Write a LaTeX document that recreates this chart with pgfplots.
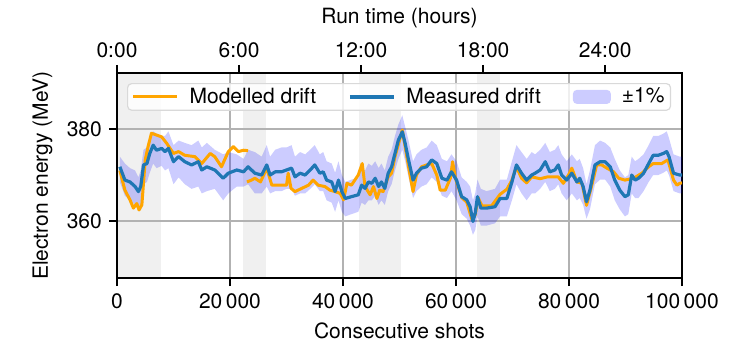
\documentclass[border=0pt]{standalone}
\usepackage{pgfplots}
\pgfplotsset{compat=1.18}
\usepackage{pgfplotstable}
\usepgfplotslibrary{fillbetween}
\usepackage{fontspec}
\setmainfont{TeX Gyre Heros}
\definecolor{mblue}{RGB}{31,119,180}
\definecolor{morange}{RGB}{255,165,0}
\definecolor{gridgray}{RGB}{178,178,178}
\definecolor{shade}{RGB}{240,240,240}

\pgfplotsset{
  lineleg/.style={legend image code/.code={\draw[##1] (0pt,0pt) -- (44pt,0pt);}},
  bandleg/.style={legend image code/.code={\fill[##1] (0pt,-7pt) rectangle (38pt,7pt);}},
}

\pgfplotstableread{
x y lo hi
500 371.8 368.5 374
1400 368.9 365.5 372.5
2300 368.5 364.5 371.5
3200 367.5 363.5 371
3800 366.4 362.5 369.5
4200 367.5 363.5 371
4700 372.2 368 375.5
5300 372.5 368.5 376
5800 374.7 370.5 378
6400 376.5 372.5 379.5
7000 375.4 371.5 379
7900 375.8 372 378.5
8500 375.1 371 378.5
9100 375.8 371.5 379.5
10000 372.9 368 376.5
10900 374.0 369.5 377.5
12000 372.9 368 377
13200 372.2 367 376.5
14400 372.9 367.5 377.5
15000 371.1 366 376
15900 371.8 366.5 377
17300 371.1 367 375.5
18800 369.3 364.5 374.5
19700 370.4 366 375
21200 371.1 367.5 374.5
22400 370.7 367.5 373.5
23200 371.8 368 375.5
24400 370.4 366 375
25600 370.0 366 374
26500 372.2 367.5 376.5
27100 370.0 366 374
28000 370.7 366.5 375.5
29100 370.7 366.5 376
30000 371.1 367 376
30900 371.5 367 376.5
31500 369.6 365.5 374
32400 370.4 366 375
33300 370.0 366 374.5
34200 371.1 367 375.5
35000 372.2 368 376.5
35900 370.4 366.5 374.5
36500 370.7 366.5 375
37100 368.9 364.5 373
38000 368.5 364 372.5
38600 366.4 362 370.5
39200 368.9 364.5 373
39800 366.4 362 370
40400 364.9 361 368.5
41500 365.3 361.5 369
42700 365.7 362 369.5
43300 367.8 364 371.5
43900 367.1 363.5 371
44500 368.5 364.5 372.5
45100 368.2 364.5 372
45700 369.3 365.5 373
46300 367.5 363.5 371.5
46800 368.5 364.5 372.5
47400 367.1 363.5 371
48000 370.4 366.5 374
48600 371.8 368 375.5
49200 374.7 371 378.5
49800 377.6 373.5 381
50500 379.4 375.5 383
51000 376.9 373 380.5
51600 373.3 369.5 377.5
52400 368.9 365 373
53000 370.4 366.5 374.5
53900 371.5 367.5 375.5
54800 371.8 368 376
55700 373.3 369.5 377.5
56600 372.5 368.5 376.5
57500 369.3 365.5 373.5
58400 368.9 365 373
59200 370.7 366.5 374.5
60100 368.9 364.5 373
61000 365.3 361.5 369.5
61900 364.6 360.5 368.5
62500 363.1 359 367.5
63000 359.9 357 364.5
63400 361.7 358 366
63800 365.3 361 369
64400 362.8 359 367
65400 362.8 359 366.5
66900 363.1 359.5 367
67800 364.9 361 369
69000 364.9 361 369
69900 368.5 364.5 373
70700 372.2 368 376.5
71600 370.4 366 375
72500 368.9 364.5 373.5
73400 370.0 366 375
74000 370.4 366 374.5
74900 371.1 367 375.5
75800 372.9 368.5 377
76600 370.7 366.5 375
77500 371.1 367 375.5
78100 372.2 368 376.5
78700 370.0 366 374.5
79600 368.9 364.5 373
80500 370.4 366 374.5
81400 368.5 364.5 373
81900 369.3 365 373.5
82500 367.5 363.5 371.5
83100 364.2 360.5 368
83700 366.7 362.5 371
84600 372.2 368 376.5
85500 372.9 369 377.5
86400 372.9 369 377
87300 371.8 367.5 376
88100 368.9 364.5 373.5
89000 366.7 362.5 371
89900 365.3 361 369.5
90500 365.7 361.5 370
91100 370.0 366 374
91700 368.9 365 373
92300 369.3 365 373.5
93200 370.4 366.5 374.5
94100 372.5 368.5 376.5
94900 374.3 370 378.5
95800 374.3 370 378.5
96700 374.7 370.5 379
97300 375.1 371 379.5
97700 374.0 370 378
98500 370.4 366.5 374.5
99600 370.0 366 374
100000 370.0 366 374
}\measured

\pgfplotstableread{
x y
500 371.0
1400 366.7
2300 364.6
2900 362.8
3500 363.8
3900 362.4
4400 363.5
5000 373.3
5500 376.2
6100 379.1
7000 378.7
7900 378.3
8800 376.9
10000 374.7
10900 375.1
12000 374.3
13800 374.0
15000 372.5
16500 374.7
17300 374.0
18500 371.8
19700 375.1
20600 376.2
21500 375.1
22400 375.4
23200 375.3
23100 nan
23000 368.5
23800 368.9
24400 369.3
25400 368.5
26500 371.5
27400 367.8
28600 367.8
30000 367.8
30300 370.4
30800 367.1
31500 366.4
32700 367.1
33900 367.8
34700 368.9
35600 367.8
36800 367.5
37700 366.7
38600 366.4
39500 366.0
40100 364.6
40700 368.2
41500 367.8
42700 370.0
43400 372.5
43900 367.5
44800 365.7
45400 367.5
46000 364.9
46500 366.7
47100 366.4
48000 369.6
48600 370.4
49200 374.0
50100 378.0
50500 379.8
51600 371.8
52400 366.4
53000 370.0
53900 371.8
54800 372.2
55700 372.5
56600 370.0
57200 366.7
58100 366.7
59000 369.3
59400 372.9
59900 369.3
61000 365.1
61900 364.1
62800 360.4
63400 361.3
63900 365.1
64600 363.3
66300 363.3
67800 365.8
69000 366.9
69900 368.9
70700 371.8
71600 369.3
72500 368.3
73400 369.6
74900 369.2
76200 369.6
78100 369.6
79000 368.2
79900 370.0
80500 371.5
81400 368.5
82300 368.2
83100 363.4
84000 367.6
84900 372.2
85800 372.2
86700 371.5
87900 370.7
88800 369.3
89900 368.9
91400 369.3
92900 370.4
94100 371.8
94900 372.5
96400 372.5
97500 373.3
98500 368.9
99100 367.8
99600 368.2
100000 368.3
}\modelled

\pgfplotsset{every axis/.append style={font=\fontsize{21}{25}\selectfont}}

\begin{document}
\fontsize{21}{25}\selectfont
\begin{tikzpicture}[font=\fontsize{21}{25}\selectfont]
\begin{axis}[
  set layers=standard,
  at={(0pt,0pt)}, anchor=south west,
  scale only axis, width=565pt, height=205pt,
  xmin=0, xmax=100000, ymin=347.6, ymax=392.2,
  scaled x ticks=false, scaled y ticks=false,
  axis line style={line width=2pt},
  tick align=outside, xtick pos=bottom, ytick pos=left,
  major tick length=8pt, tick style={line width=2pt, black},
  xtick={0,20000,40000,60000,80000,100000},
  xticklabels={0,20\,000,40\,000,60\,000,80\,000,100\,000},
  ytick={360,380}, yticklabels={360,380},
  grid=major, grid style={gridgray, line width=1.6pt},
  xlabel={Consecutive shots}, ylabel={Electron energy (MeV)},
  unbounded coords=jump,
  clip=true,
  legend columns=3,
  legend style={at={(0.0177,0.951)}, anchor=north west,
    draw=black!15, line width=1.2pt, rounded corners=4pt,
    fill=white, fill opacity=0.8, text opacity=1,
    inner xsep=4pt, inner ysep=2pt,
    /tikz/every odd column/.append style={column sep=9pt},
    /tikz/every even column/.append style={column sep=30pt}},
]
\addplot[fill=shade, draw=none, forget plot, on layer=axis background] coordinates {(0,347.6) (7800,347.6) (7800,392.2) (0,392.2)} -- cycle;
\addplot[fill=shade, draw=none, forget plot, on layer=axis background] coordinates {(22300,347.6) (26400,347.6) (26400,392.2) (22300,392.2)} -- cycle;
\addplot[fill=shade, draw=none, forget plot, on layer=axis background] coordinates {(42800,347.6) (50200,347.6) (50200,392.2) (42800,392.2)} -- cycle;
\addplot[fill=shade, draw=none, forget plot, on layer=axis background] coordinates {(63800,347.6) (67800,347.6) (67800,392.2) (63800,392.2)} -- cycle;

\addplot[name path=hi, draw=none, forget plot] table[x=x, y=hi] {\measured};
\addplot[name path=lo, draw=none, forget plot] table[x=x, y=lo] {\measured};
\addplot[fill=blue, fill opacity=0.2, draw=none, forget plot] fill between[of=hi and lo];

\addplot[morange, line width=3pt, line join=round, lineleg]
  table[x=x, y=y] {\modelled};
\addplot[mblue, line width=3.2pt, line join=round, lineleg]
  table[x=x, y=y] {\measured};
\addlegendimage{fill=blue, fill opacity=0.2, draw=none, bandleg}
\legend{Modelled drift, Measured drift, ±1\%}
\end{axis}
\begin{axis}[
  at={(0pt,0pt)}, anchor=south west,
  scale only axis, width=565pt, height=205pt,
  xmin=0, xmax=27.7778, ymin=0, ymax=1,
  axis x line*=top, axis y line=none,
  axis line style={line width=2pt},
  tick align=outside, major tick length=8pt, tick style={line width=2pt, black},
  xtick={0,6,12,18,24},
  xticklabels={0:00,6:00,12:00,18:00,24:00},
  xlabel={Run time (hours)},
]
\end{axis}
\path (-117pt,-71pt) rectangle (623pt,278pt);
\end{tikzpicture}
\end{document}
